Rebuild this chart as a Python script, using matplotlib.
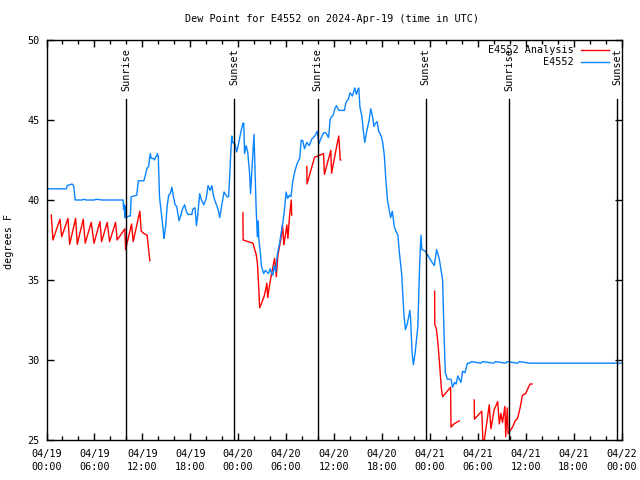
import numpy as np
import matplotlib
matplotlib.use("Agg")
import matplotlib.pyplot as plt

# ---- data (hours since 2024-04-19 00:00 UTC, dew point degF) ----
blue_pts = [
    (0.0, 40.7), (2.5, 40.7), (2.6, 40.9), (3.2, 41.0), (3.4, 40.9), (3.6, 40.0),
    (4.5, 40.0), (4.6, 40.05), (5.0, 40.0), (6.0, 40.0), (6.2, 40.05), (7.0, 40.0),
    (8.0, 40.0), (9.0, 40.0), (9.6, 40.0), (9.65, 39.4), (9.75, 39.7), (9.8, 38.9),
    (9.9, 39.6), (10.0, 38.9), (10.3, 39.0), (10.5, 39.0), (10.6, 40.2), (11.3, 40.3),
    (11.5, 41.2), (12.2, 41.2), (12.4, 41.6), (12.6, 42.0), (12.8, 42.1), (12.9, 42.6),
    (13.0, 42.9), (13.1, 42.6), (13.4, 42.6), (13.5, 42.5), (13.7, 42.7), (13.9, 42.9),
    (14.0, 42.7), (14.15, 40.2), (14.4, 39.1), (14.6, 38.2), (14.7, 37.6), (14.8, 37.9),
    (14.95, 38.5), (15.1, 39.6), (15.3, 40.3), (15.5, 40.4), (15.7, 40.8), (15.9, 40.2),
    (16.1, 39.7), (16.3, 39.6), (16.6, 38.7), (16.8, 39.0), (17.0, 39.4), (17.3, 39.7),
    (17.5, 39.3), (17.7, 39.1), (18.2, 39.1), (18.3, 39.4), (18.5, 39.5), (18.6, 39.5),
    (18.77, 38.4), (18.9, 38.9), (19.19, 40.4), (19.4, 40.0), (19.7, 39.7), (20.0, 40.1),
    (20.23, 40.9), (20.5, 40.6), (20.7, 40.9), (20.94, 40.2), (21.2, 39.8), (21.5, 39.4),
    (21.69, 38.9), (22.0, 39.8), (22.23, 40.5), (22.6, 40.2), (22.8, 40.2), (22.94, 41.5),
    (23.1, 43.2), (23.2, 44.0), (23.3, 43.6), (23.6, 43.5), (23.8, 43.0), (24.0, 43.4),
    (24.2, 43.9), (24.4, 44.4), (24.6, 44.8), (24.7, 44.8), (24.8, 42.9), (25.0, 43.4),
    (25.2, 43.0), (25.44, 41.6), (25.55, 40.4), (25.8, 42.5), (25.98, 44.1), (26.1, 42.0),
    (26.25, 39.5), (26.4, 37.7), (26.5, 38.7), (26.6, 37.5), (26.8, 36.6), (26.9, 35.9),
    (27.19, 35.4), (27.4, 35.6), (27.8, 35.4), (28.0, 35.7), (28.2, 35.4), (28.35, 35.3),
    (28.5, 35.9), (28.7, 35.5), (28.9, 36.6), (29.19, 37.3), (29.4, 38.0), (29.6, 38.6),
    (29.8, 39.4), (30.0, 40.5), (30.2, 40.1), (30.4, 40.3), (30.6, 40.2), (30.85, 41.2),
    (31.1, 41.8), (31.4, 42.3), (31.7, 42.6), (31.9, 43.75), (32.1, 43.7), (32.3, 43.2),
    (32.6, 43.6), (32.9, 43.4), (33.2, 43.8), (33.6, 44.0), (33.9, 44.3), (34.1, 43.5),
    (34.4, 43.9), (34.7, 44.2), (35.0, 44.2), (35.3, 43.9), (35.4, 44.3), (35.5, 45.0),
    (35.7, 45.2), (35.9, 45.3), (36.1, 45.7), (36.3, 45.9), (36.6, 45.6), (37.0, 45.6),
    (37.3, 45.6), (37.5, 46.1), (37.8, 46.3), (38.0, 46.7), (38.3, 46.5), (38.6, 47.0),
    (38.8, 46.6), (39.0, 46.9), (39.1, 47.0), (39.25, 45.8), (39.5, 45.2), (39.7, 44.2),
    (39.85, 43.6), (40.1, 44.3), (40.4, 45.0), (40.6, 45.7), (40.8, 45.3), (41.0, 44.6),
    (41.2, 44.8), (41.4, 44.9), (41.6, 44.3), (41.9, 44.0), (42.1, 43.6), (42.3, 42.8),
    (42.5, 41.2), (42.7, 40.0), (42.9, 39.4), (43.1, 38.9), (43.3, 39.3), (43.56, 38.3),
    (43.8, 38.0), (44.0, 37.8), (44.19, 36.7), (44.47, 35.4), (44.6, 34.2), (44.75, 32.9),
    (44.94, 31.9), (45.2, 32.3), (45.5, 33.1), (45.6, 32.5), (45.77, 30.5), (45.94, 29.7),
    (46.15, 30.4), (46.5, 32.1), (46.69, 35.4), (46.8, 36.9), (46.9, 37.8), (47.0, 36.9),
    (47.44, 36.8), (47.8, 36.5), (48.15, 36.2), (48.56, 35.9), (48.85, 36.9), (49.19, 36.3),
    (49.6, 35.0), (49.8, 31.3), (49.94, 29.2), (50.2, 28.8), (50.65, 28.8), (50.85, 28.3),
    (51.1, 28.6), (51.3, 28.5), (51.5, 29.0), (51.7, 28.8), (51.9, 28.6), (52.1, 29.3),
    (52.4, 29.2), (52.7, 29.8), (53.0, 29.8), (53.2, 29.9), (54.4, 29.8), (54.6, 29.9),
    (56.0, 29.8), (56.2, 29.9), (57.5, 29.8), (57.7, 29.9), (59.0, 29.8), (59.2, 29.9),
    (60.5, 29.8), (60.7, 29.8), (72.0, 29.8),
]

red_segments = [
    [(0.6, 39.06), (0.8, 37.5), (1.69, 38.8), (1.9, 37.7), (2.69, 38.85), (2.9, 37.23),
     (3.65, 38.85), (3.85, 37.23), (4.6, 38.8), (4.85, 37.3), (5.6, 38.6), (5.95, 37.3),
     (6.69, 38.65), (6.9, 37.4), (7.6, 38.6), (7.9, 37.4), (8.65, 38.6), (8.85, 37.5),
     (9.81, 38.2), (9.9, 36.9), (10.65, 38.5), (10.85, 37.4), (11.69, 39.3), (11.85, 38.06),
     (12.2, 37.9), (12.6, 37.8), (12.73, 37.2), (12.94, 36.2)],
    [(24.6, 39.2), (24.62, 37.5), (25.23, 37.4), (25.85, 37.3), (26.27, 36.56), (26.4, 36.1),
     (26.56, 34.7), (26.69, 33.27), (26.9, 33.5), (27.3, 34.06), (27.6, 34.8), (27.7, 33.9),
     (27.94, 34.7), (28.15, 35.3), (28.56, 36.35), (28.78, 35.2), (28.98, 36.56),
     (29.4, 37.7), (29.55, 38.4), (29.73, 37.2), (30.1, 38.44), (30.23, 37.6),
     (30.44, 39.06), (30.65, 40.0), (30.7, 39.06)],
    [(32.6, 42.1), (32.62, 41.0), (33.56, 42.67), (33.98, 42.75), (34.69, 42.9),
     (34.8, 41.6), (35.6, 43.1), (35.7, 41.67), (36.35, 43.4), (36.6, 44.0),
     (36.78, 42.5), (36.85, 42.5)],
    [(48.6, 34.3), (48.62, 32.2), (48.8, 32.0), (48.9, 31.6), (49.0, 31.1), (49.1, 30.5),
     (49.2, 29.9), (49.3, 29.2), (49.45, 28.2), (49.6, 27.7), (50.6, 28.3), (50.65, 25.8),
     (51.0, 26.0), (51.7, 26.2)],
    [(53.56, 27.5), (53.58, 26.3), (54.5, 26.8), (54.65, 24.9), (54.8, 24.9), (55.44, 27.2),
     (55.65, 25.7), (56.06, 26.9), (56.5, 27.4), (56.7, 26.0), (56.9, 26.67), (57.1, 26.1),
     (57.4, 27.1), (57.5, 25.2), (57.7, 27.0), (57.8, 25.4), (58.35, 25.8), (58.7, 26.2),
     (58.98, 26.35), (59.3, 27.0), (59.6, 27.8), (60.0, 27.9), (60.35, 28.3),
     (60.56, 28.5), (60.8, 28.5)],
]

sun_t = [9.97, 23.47, 33.96, 47.48, 57.95, 71.48]
sun_lbl = ["Sunrise", "Sunset", "Sunrise", "Sunset", "Sunrise", "Sunset"]

xtick_hours = [0, 6, 12, 18, 24, 30, 36, 42, 48, 54, 60, 66, 72]
xtick_lbls = ["04/19\n00:00", "04/19\n06:00", "04/19\n12:00", "04/19\n18:00",
              "04/20\n00:00", "04/20\n06:00", "04/20\n12:00", "04/20\n18:00",
              "04/21\n00:00", "04/21\n06:00", "04/21\n12:00", "04/21\n18:00",
              "04/22\n00:00"]
yticks = [25, 30, 35, 40, 45, 50]

blue_t = [p[0] for p in blue_pts]
blue_v = [p[1] for p in blue_pts]
red_t, red_v = [], []
for seg in red_segments:
    red_t += [p[0] for p in seg] + [np.nan]
    red_v += [p[1] for p in seg] + [np.nan]

# ---- plot ----
FONT = "DejaVu Sans Mono"
FS = 7.3
plt.rcParams['font.family'] = [FONT]
plt.rcParams['font.size'] = FS

fig = plt.figure(figsize=(6.4, 4.8), dpi=100)
W, H = 640, 480
L, R, T, B = 46.5, 621.5, 40, 440
ax = fig.add_axes([L / W, 1 - B / H, (R - L) / W, (B - T) / H])
ax.set_xlim(0, 72)
ax.set_ylim(25, 50)

ax.plot(red_t, red_v, color="#ff0000", lw=1.0, label="E4552 Analysis")
ax.plot(blue_t, blue_v, color="#0a84ff", lw=1.0, label="E4552")

for t, lbl in zip(sun_t, sun_lbl):
    ax.plot([t, t], [25, 46.3], color="black", lw=1.0)
    ax.text(t, 49.5, lbl, rotation=90, ha="center", va="top", fontsize=FS)

ax.set_xticks(xtick_hours)
ax.set_xticklabels(xtick_lbls, linespacing=1.35)
ax.set_xticks(np.arange(0, 73, 2), minor=True)
ax.set_yticks(yticks)
ax.tick_params(axis="both", which="major", direction="in", length=5, width=1,
               top=True, right=True, labelsize=FS)
ax.tick_params(axis="x", which="major", pad=6.5)
ax.tick_params(axis="y", which="major", pad=5)
ax.tick_params(axis="x", which="minor", direction="in", length=3, width=1,
               top=True, bottom=True)
for s in ax.spines.values():
    s.set_linewidth(1.0)

fig.text(9.5 / W, 1 - 241 / H, "degrees F", rotation=90, ha="center", va="center",
         fontsize=FS)
fig.text(332 / W, 1 - 19 / H, "Dew Point for E4552 on 2024-Apr-19 (time in UTC)",
         ha="center", va="center", fontsize=FS)

# legend (gnuplot style)
for i, (lbl, col) in enumerate([("E4552 Analysis", "#ff0000"), ("E4552", "#0a84ff")]):
    ypx = 50 + 12 * i
    fig.text(574 / W, 1 - ypx / H, lbl, ha="right", va="center", fontsize=FS)
    fig.add_artist(plt.Line2D([581 / W, 609 / W], [1 - ypx / H, 1 - ypx / H],
                              color=col, lw=1.0))

fig.savefig("out.png", dpi=100)
